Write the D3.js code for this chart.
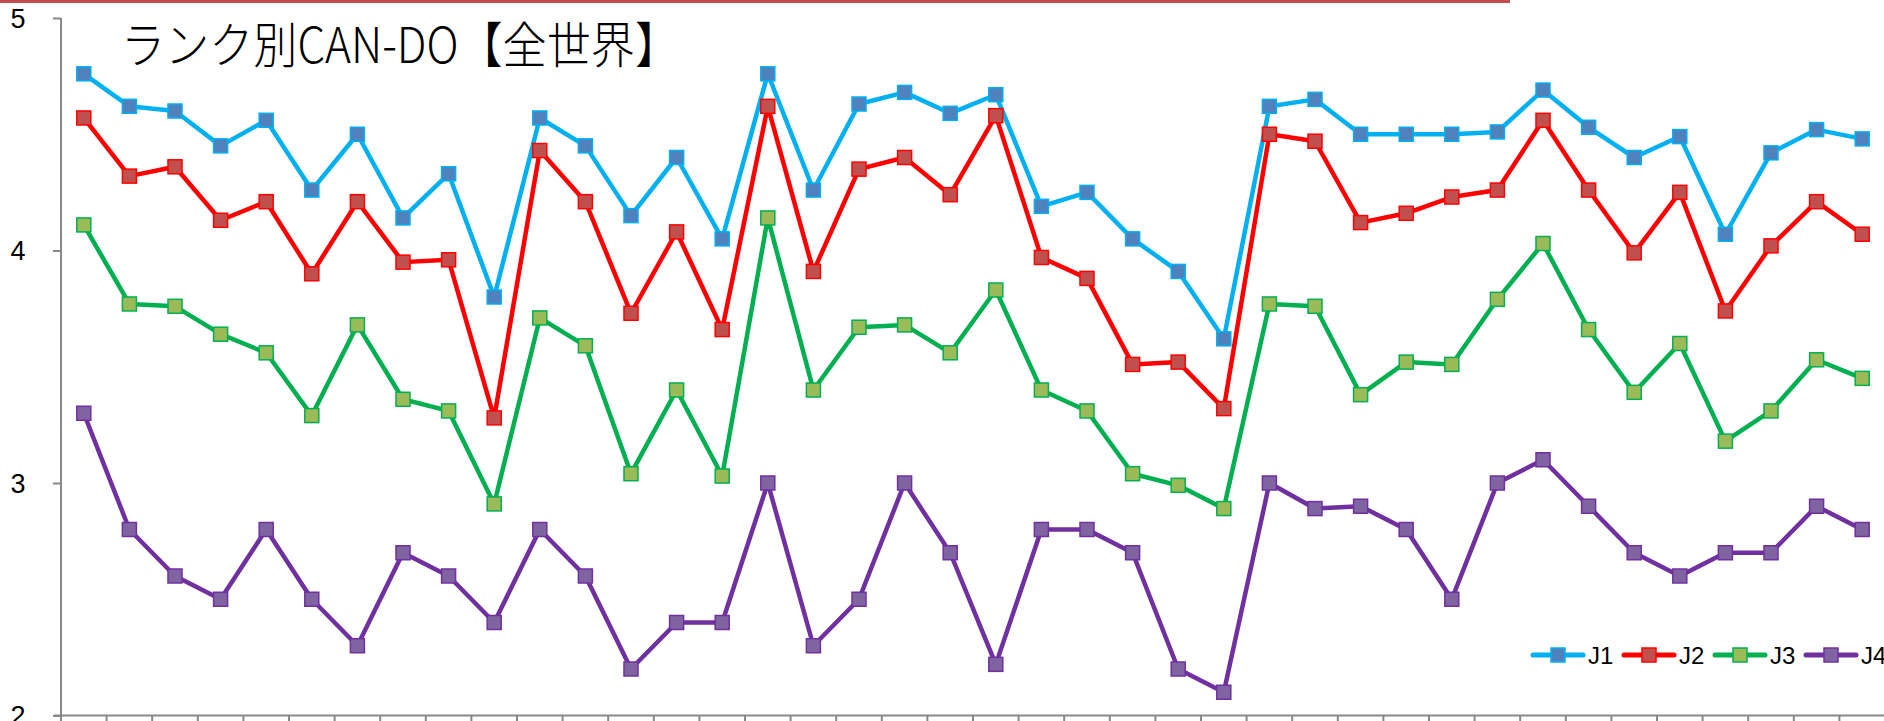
<!DOCTYPE html>
<html><head><meta charset="utf-8">
<script src="https://cdn.jsdelivr.net/npm/d3@7"></script>
<style>html,body{margin:0;padding:0;background:#fff;overflow:hidden}</style>
</head><body>
<svg id="c" width="1884" height="721"></svg>
<script>
const title = "ランク別CAN-DO【全世界】";
const categories = d3.range(1, 41).map(String);
const seriesNames = ["J1", "J2", "J3", "J4"];
const J1 = [4.76,4.62,4.60,4.45,4.56,4.26,4.50,4.14,4.33,3.80,4.57,4.45,4.15,4.40,4.05,4.76,4.26,4.63,4.68,4.59,4.67,4.19,4.25,4.05,3.91,3.62,4.62,4.65,4.50,4.50,4.50,4.51,4.69,4.53,4.40,4.49,4.07,4.42,4.52,4.48];
const J2 = [4.57,4.32,4.36,4.13,4.21,3.90,4.21,3.95,3.96,3.28,4.43,4.21,3.73,4.08,3.66,4.62,3.91,4.35,4.40,4.24,4.58,3.97,3.88,3.51,3.52,3.32,4.50,4.47,4.12,4.16,4.23,4.26,4.56,4.26,3.99,4.25,3.74,4.02,4.21,4.07];
const J3 = [4.11,3.77,3.76,3.64,3.56,3.29,3.68,3.36,3.31,2.91,3.71,3.59,3.04,3.40,3.03,4.14,3.40,3.67,3.68,3.56,3.83,3.40,3.31,3.04,2.99,2.89,3.77,3.76,3.38,3.52,3.51,3.79,4.03,3.66,3.39,3.60,3.18,3.31,3.53,3.45];
const J4 = [3.30,2.80,2.60,2.50,2.80,2.50,2.30,2.70,2.60,2.40,2.80,2.60,2.20,2.40,2.40,3.00,2.30,2.50,3.00,2.70,2.22,2.80,2.80,2.70,2.20,2.10,3.00,2.89,2.90,2.80,2.50,3.00,3.10,2.90,2.70,2.60,2.70,2.70,2.90,2.80];
const yTicks = [2, 3, 4, 5];
const lineColors = ["#00b0f0", "#ff0000", "#00b050", "#7030a0"];
const markerFills = ["#4f81bd", "#c0504d", "#9bbb59", "#8064a2"];
const seriesValues = [J1, J2, J3, J4];

const svg = d3.select("#c");
// slide decoration line at the top
svg.append("rect").attr("x", 0).attr("y", 0).attr("width", 1510).attr("height", 3).attr("fill", "#c0504d");

const x = d3.scaleBand().domain(categories).range([61, 61 + 40 * 45.6]).padding(0);
const y = d3.scaleLinear().domain([2, 5]).range([715.5, 18]);

// y axis
const yAxis = d3.axisLeft(y).tickValues(yTicks).tickSize(8).tickFormat(d3.format("d"));
const gy = svg.append("g").attr("transform", "translate(61,0)").call(yAxis);
gy.select(".domain").attr("stroke", "#888").attr("stroke-width", 2).attr("d", "M0,18V715.5");
gy.selectAll(".tick line").attr("stroke", "#888").attr("stroke-width", 2);
gy.selectAll(".tick text").attr("x", -43).attr("text-anchor", "middle").attr("dy", "0.35em")
  .attr("font-family", "Liberation Sans, Arial, sans-serif").attr("font-size", 27).attr("fill", "#000");

// x axis with ticks at band boundaries
const gx = svg.append("g").attr("transform", "translate(0,715.5)");
gx.append("line").attr("x1", 54).attr("x2", 1884).attr("stroke", "#888").attr("stroke-width", 2);
const bounds = categories.map(c => x(c)).concat([x(categories[39]) + x.bandwidth()]);
gx.selectAll("line.t").data(bounds).join("line").attr("class", "t")
  .attr("x1", d => d).attr("x2", d => d).attr("y1", 0).attr("y2", 8)
  .attr("stroke", "#888").attr("stroke-width", 2);

// lines and markers
const cx = i => x(categories[i]) + x.bandwidth() / 2;
const line = d3.line().x((d, i) => cx(i)).y(d => y(d));
seriesValues.forEach((vals, s) => {
  svg.append("path").datum(vals).attr("d", line).attr("fill", "none")
    .attr("stroke", lineColors[s]).attr("stroke-width", 4.5).attr("stroke-linejoin", "round");
});
seriesValues.forEach((vals, s) => {
  svg.append("g").selectAll("rect").data(vals).join("rect")
    .attr("x", (d, i) => cx(i) - 7).attr("y", d => y(d) - 7)
    .attr("width", 14).attr("height", 14)
    .attr("fill", markerFills[s]).attr("stroke", lineColors[s]).attr("stroke-width", 1.5);
});

// title
svg.append("text").attr("x", 121).attr("y", 63).text(title)
  .attr("font-family", "Noto Sans CJK JP, sans-serif").attr("font-weight", 300)
  .attr("font-size", 49).attr("fill", "#000")
  .attr("textLength", 558).attr("lengthAdjust", "spacingAndGlyphs");

// legend
const legX = [1530, 1621, 1712, 1803];
const lg = svg.append("g");
seriesNames.forEach((n, s) => {
  const g = lg.append("g").attr("transform", `translate(${legX[s]},655)`);
  g.append("line").attr("x1", 3).attr("x2", 53).attr("stroke", lineColors[s]).attr("stroke-width", 5).attr("stroke-linecap", "round");
  g.append("rect").attr("x", 21).attr("y", -7).attr("width", 14).attr("height", 14)
    .attr("fill", markerFills[s]).attr("stroke", lineColors[s]).attr("stroke-width", 1.5);
  g.append("text").attr("x", 58).attr("y", 0).attr("dy", "0.36em").text(n)
    .attr("font-family", "Liberation Sans, Arial, sans-serif").attr("font-size", 24).attr("fill", "#000");
});
</script>
</body></html>
